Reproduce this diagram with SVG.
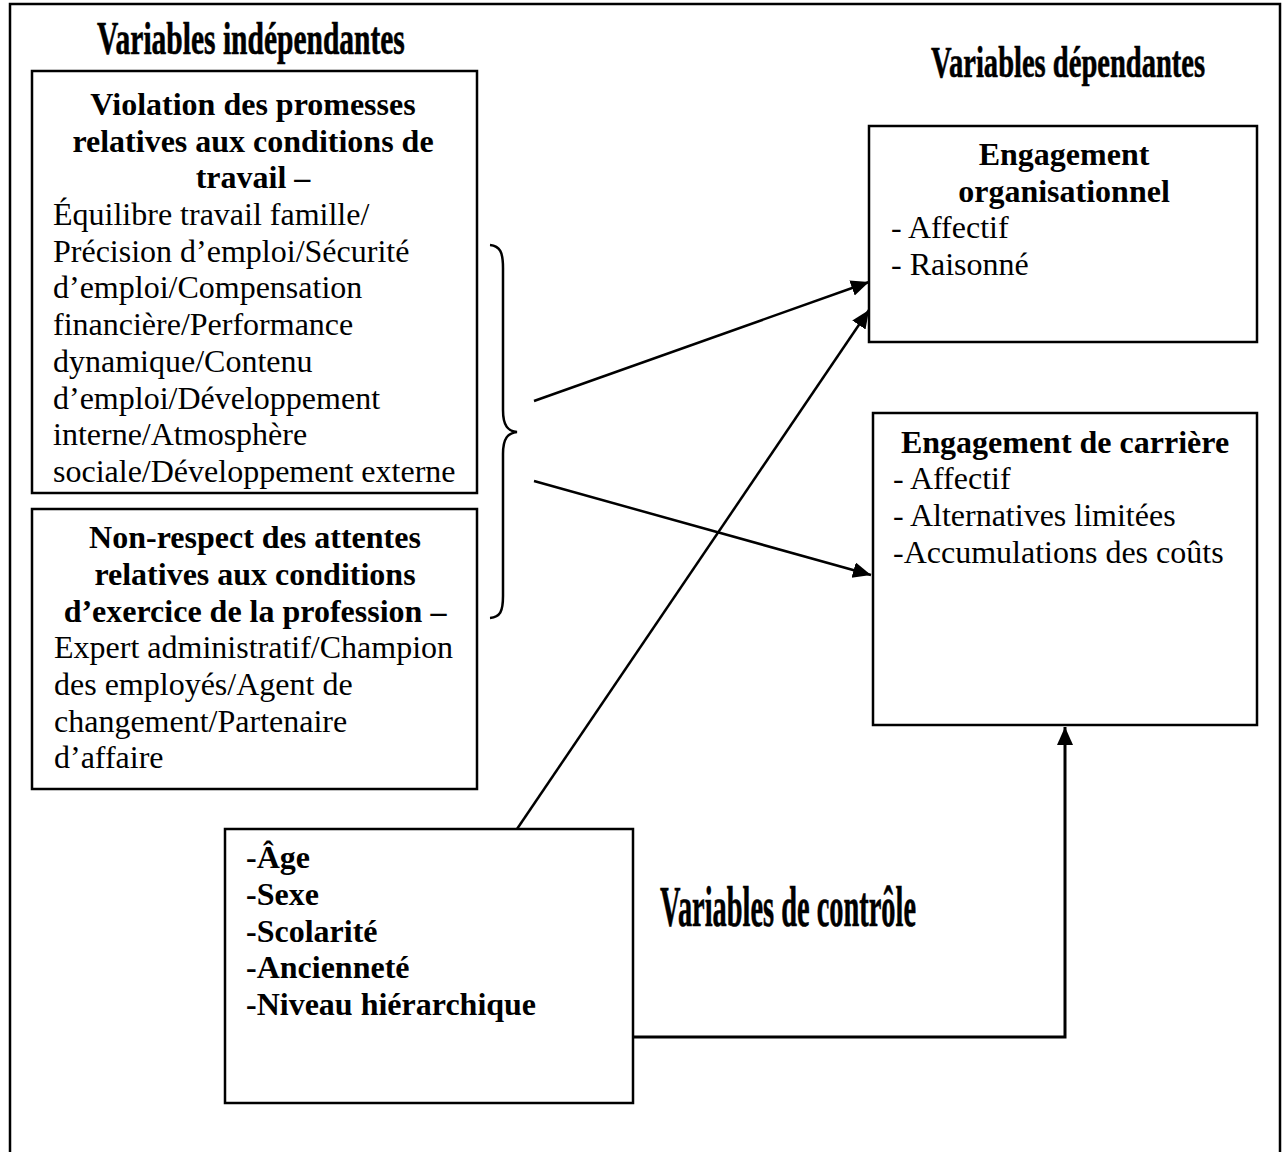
<svg xmlns="http://www.w3.org/2000/svg" width="1286" height="1152" viewBox="0 0 1286 1152">
  <style>
    .box { fill: #ffffff; stroke: #000000; stroke-width: 2.5; }
    .frame { fill: none; stroke: #000000; stroke-width: 2.5; }
    .t { font-family: "Liberation Serif", "Times New Roman", serif; font-size: 32px; fill: #000000; }
    .b { font-weight: bold; }
    .c { text-anchor: middle; }
    .title { font-family: "Liberation Serif", "Times New Roman", serif; font-weight: bold; fill: #000000; stroke: #000000; stroke-width: 0.6; }
    .conn { fill: none; stroke: #000000; stroke-width: 2.5; }
  </style>
  <defs>
    <marker id="arrow" markerUnits="userSpaceOnUse" markerWidth="20" markerHeight="18" refX="18" refY="8" orient="auto">
      <path d="M0,0 L18,8 L0,16 Z" fill="#000000"/>
    </marker>
  </defs>

  <rect x="0" y="0" width="1286" height="1152" fill="#ffffff"/>
  <rect id="frame" class="frame" x="10" y="4" width="1270" height="1170"/>

  <g id="title-independantes">
    <text class="title" transform="translate(97,54) scale(0.636,1)" x="0" y="0" font-size="46" textLength="484" lengthAdjust="spacingAndGlyphs">Variables indépendantes</text>
  </g>
  <g id="title-dependantes">
    <text class="title" transform="translate(931,77) scale(0.642,1)" x="0" y="0" font-size="44" textLength="427" lengthAdjust="spacingAndGlyphs">Variables dépendantes</text>
  </g>
  <g id="title-controle">
    <text class="title" transform="translate(660,926) scale(0.502,1)" x="0" y="0" font-size="56" textLength="510" lengthAdjust="spacingAndGlyphs">Variables de contrôle</text>
  </g>

  <g id="node-violation">
    <rect class="box" x="32" y="71" width="445" height="422"/>
    <text class="t b c" x="253" y="115">Violation des promesses</text>
    <text class="t b c" x="253" y="152">relatives aux conditions de</text>
    <text class="t b c" x="253" y="188">travail –</text>
    <text class="t" x="53" y="225">Équilibre travail famille/</text>
    <text class="t" x="53" y="262">Précision d’emploi/Sécurité</text>
    <text class="t" x="53" y="298">d’emploi/Compensation</text>
    <text class="t" x="53" y="335">financière/Performance</text>
    <text class="t" x="53" y="372">dynamique/Contenu</text>
    <text class="t" x="53" y="409">d’emploi/Développement</text>
    <text class="t" x="53" y="445">interne/Atmosphère</text>
    <text class="t" x="53" y="482">sociale/Développement externe</text>
  </g>

  <g id="node-nonrespect">
    <rect class="box" x="32" y="509" width="445" height="280"/>
    <text class="t b c" x="255" y="548">Non-respect des attentes</text>
    <text class="t b c" x="255" y="585">relatives aux conditions</text>
    <text class="t b c" x="255" y="622">d’exercice de la profession –</text>
    <text class="t" x="54" y="658">Expert administratif/Champion</text>
    <text class="t" x="54" y="695">des employés/Agent de</text>
    <text class="t" x="54" y="732">changement/Partenaire</text>
    <text class="t" x="54" y="768">d’affaire</text>
  </g>

  <g id="node-eng-org">
    <rect class="box" x="869" y="126" width="388" height="216"/>
    <text class="t b c" x="1064" y="165">Engagement</text>
    <text class="t b c" x="1064" y="202">organisationnel</text>
    <text class="t" x="891" y="238">- Affectif</text>
    <text class="t" x="891" y="275">- Raisonné</text>
  </g>

  <g id="node-eng-carriere">
    <rect class="box" x="873" y="413" width="384" height="312"/>
    <text class="t b c" x="1065" y="453">Engagement de carrière</text>
    <text class="t" x="893" y="489">- Affectif</text>
    <text class="t" x="893" y="526">- Alternatives limitées</text>
    <text class="t" x="893" y="563">-Accumulations des coûts</text>
  </g>

  <g id="node-controle">
    <rect class="box" x="225" y="829" width="408" height="274"/>
    <text class="t b" x="246" y="868">-Âge</text>
    <text class="t b" x="246" y="905">-Sexe</text>
    <text class="t b" x="246" y="942">-Scolarité</text>
    <text class="t b" x="246" y="978">-Ancienneté</text>
    <text class="t b" x="246" y="1015">-Niveau hiérarchique</text>
  </g>

  <g id="connectors">
    <path id="brace" class="conn" d="M490,245 C500,246 503,252 503,268 L503,410 C503,426 508,431 517,432 C508,433 503,438 503,454 L503,596 C503,612 500,617 490,618"/>
    <line class="conn" x1="534" y1="401" x2="869" y2="282" marker-end="url(#arrow)"/>
    <line class="conn" x1="534" y1="481" x2="871" y2="575" marker-end="url(#arrow)"/>
    <line class="conn" x1="517" y1="829" x2="869" y2="310" marker-end="url(#arrow)"/>
    <polyline class="conn" style="stroke-width:3" points="633,1037 1065,1037 1065,727" marker-end="url(#arrow)"/>
  </g>
</svg>
